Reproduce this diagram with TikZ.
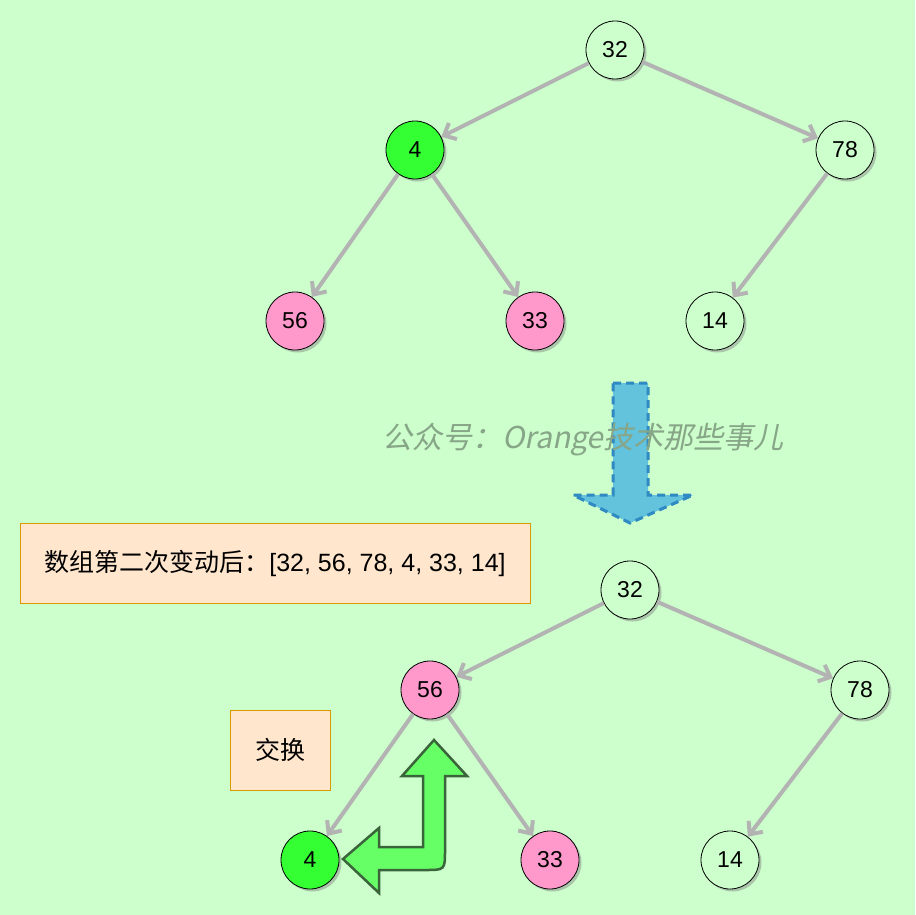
\documentclass[tikz,border=0pt]{standalone}
\usepackage{fontspec}
\setmainfont{Liberation Sans}
\newfontfamily\cjk{Noto Sans CJK SC}
\newfontfamily\cjkslant[FakeSlant=0.2]{Noto Sans CJK SC}
\usetikzlibrary{arrows.meta,shadows}
\definecolor{bg}{RGB}{204,255,204}
\definecolor{nodegreen}{RGB}{51,255,51}
\definecolor{nodepink}{RGB}{255,153,204}
\definecolor{edgegray}{RGB}{179,179,179}
\definecolor{boxfill}{RGB}{255,230,204}
\definecolor{boxline}{RGB}{215,155,0}
\definecolor{bluefill}{RGB}{99,194,220}
\definecolor{blueline}{RGB}{47,137,194}
\definecolor{arrowgreen}{RGB}{102,255,102}
\definecolor{arrowline}{RGB}{58,100,58}
\definecolor{wm}{RGB}{135,165,135}
\tikzset{
  treenode/.style={circle, draw=black, line width=0.8pt, minimum size=58pt, inner sep=0pt,
    font=\fontsize{23}{23}\selectfont,
    drop shadow={shadow xshift=2.5pt, shadow yshift=-2.5pt, fill=black!45, opacity=0.5}},
  plain/.style={treenode, fill=bg},
  greennode/.style={treenode, fill=nodegreen},
  pinknode/.style={treenode, fill=nodepink},
  edge/.style={draw=edgegray, line width=4pt, -{Straight Barb[length=10pt,width=18pt,line width=4pt]}},
  notebox/.style={draw=boxline, fill=boxfill, line width=0.8pt, inner sep=0pt}
}
\begin{document}
\begin{tikzpicture}[x=1pt,y=-1pt]
\fill[bg] (0,0) rectangle (915,915);
\useasboundingbox (0,0) rectangle (915,915);

% top tree
\node[plain] (t32) at (615,50) {32};
\node[greennode] (t4) at (415,150) {4};
\node[plain] (t78) at (845,150) {78};
\node[pinknode] (t56) at (295,321) {56};
\node[pinknode] (t33) at (535,321) {33};
\node[plain] (t14) at (715,321) {14};
\draw[edge] (t32) -- (t4);
\draw[edge] (t32) -- (t78);
\draw[edge] (t4) -- (t56);
\draw[edge] (t4) -- (t33);
\draw[edge] (t78) -- (t14);

% big blue arrow
\draw[fill=bluefill, draw=blueline, line width=3pt, dash pattern=on 8pt off 5pt]
  (613,383) -- (648,383) -- (648,495) -- (693,495) -- (630,523) -- (573,495) -- (613,495) -- cycle;

% watermark
\node[text=wm, font=\cjkslant\fontsize{30}{30}\selectfont, anchor=west, inner sep=0pt] (wmk) at (382,440) {公众号：Orange技术那些事儿};

% text box
\node[notebox, minimum width=510pt, minimum height=80pt] (info) at (275,563)
  {\fontsize{25}{25}\selectfont{\cjk 数组第二次变动后：}[32, 56, 78, 4, 33, 14]};

% bottom tree
\node[plain] (b32) at (630,590) {32};
\node[pinknode] (b56) at (430,690) {56};
\node[plain] (b78) at (860,690) {78};
\node[greennode] (b4) at (310,860) {4};
\node[pinknode] (b33) at (550,860) {33};
\node[plain] (b14) at (730,860) {14};
\draw[edge] (b32) -- (b56);
\draw[edge] (b32) -- (b78);
\draw[edge] (b56) -- (b4);
\draw[edge] (b56) -- (b33);
\draw[edge] (b78) -- (b14);

% swap box
\node[notebox, minimum width=100pt, minimum height=80pt] (swap) at (280,750)
  {\cjk\fontsize{25}{25}\selectfont 交换};

% green bent arrow
\draw[fill=arrowgreen, draw=arrowline, line width=2.5pt, line join=miter]
  (434,740) -- (467,776) -- (445,776) -- (445,850) .. controls (445,870) .. (425,870)
  -- (379,870) -- (379,893) -- (343,859) -- (379,828) -- (379,847) -- (423,847)
  -- (423,776) -- (402,776) -- cycle;
\end{tikzpicture}
\end{document}
